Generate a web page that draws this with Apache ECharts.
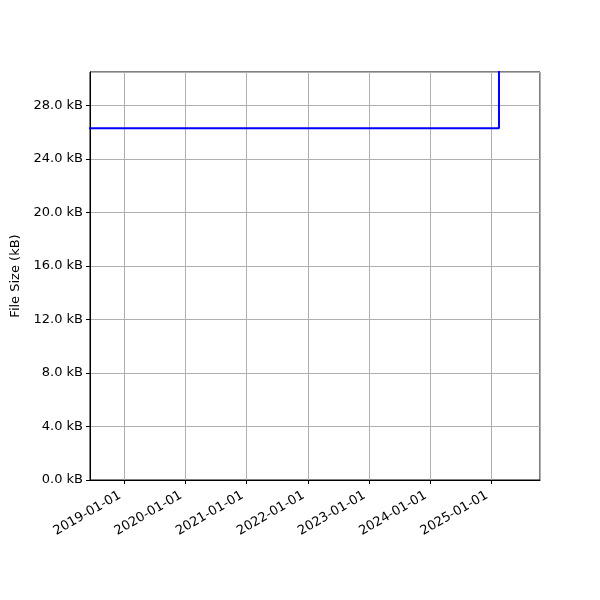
<!DOCTYPE html>
<html>
<head>
<meta charset="utf-8">
<script src="https://cdn.jsdelivr.net/npm/echarts@6/dist/echarts.min.js"></script>
<style>html,body{margin:0;padding:0;background:#fff}#chart{width:600px;height:600px}</style>
</head>
<body>
<div id="chart"></div>
<script>
// file size history (kB)
var dates = ['2018-05-01', '2025-02-16', '2025-06-19'];
var sizes = [26.3, 60.0, 60.0];

var points = dates.map(function (d, i) { return [d, sizes[i]]; });
var font = 'DejaVu Sans';

option = {
    backgroundColor: '#fff',
    animation: false,
    grid: {
        left: 90, right: 60, top: 72, bottom: 120,
        show: true, borderColor: '#000', borderWidth: 1
    },
    xAxis: {
        type: 'time',
        min: '2018-06-10',
        max: '2025-10-19',
        minInterval: 365 * 24 * 3600 * 1000,
        maxInterval: 366 * 24 * 3600 * 1000,
        axisLine: { show: true, lineStyle: { color: '#000', width: 1 } },
        axisTick: { show: true, length: 4, lineStyle: { color: '#000' } },
        splitLine: { show: true, lineStyle: { color: '#b0b0b0', width: 1 } },
        minorTick: { show: false },
        axisLabel: {
            rotate: 30,
            color: '#000',
            fontFamily: font,
            fontSize: 13,
            margin: 12,
            padding: [0, 5, 0, 0],
            showMinLabel: false,
            showMaxLabel: false,
            formatter: '{yyyy}-{MM}-{dd}'
        }
    },
    yAxis: {
        type: 'value',
        min: 0,
        max: 30.5,
        interval: 4,
        name: 'File Size (kB)',
        nameLocation: 'middle',
        nameGap: 64,
        nameTextStyle: { color: '#000', fontFamily: font, fontSize: 13 },
        axisLine: { show: true, lineStyle: { color: '#000', width: 1 } },
        axisTick: { show: true, length: 4, lineStyle: { color: '#000' } },
        splitLine: { show: true, lineStyle: { color: '#b0b0b0', width: 1 } },
        axisLabel: {
            color: '#000',
            fontFamily: font,
            fontSize: 13,
            margin: 7,
            showMaxLabel: false,
            formatter: function (v) { return v.toFixed(1) + ' kB'; }
        }
    },
    series: [{
        type: 'line',
        data: points,
        step: 'end',
        showSymbol: false,
        clip: true,
        lineStyle: { color: '#0000ff', width: 2 }
    }]
};
var chart = echarts.init(document.getElementById('chart'));
chart.setOption(option, true);
</script>
</body>
</html>
